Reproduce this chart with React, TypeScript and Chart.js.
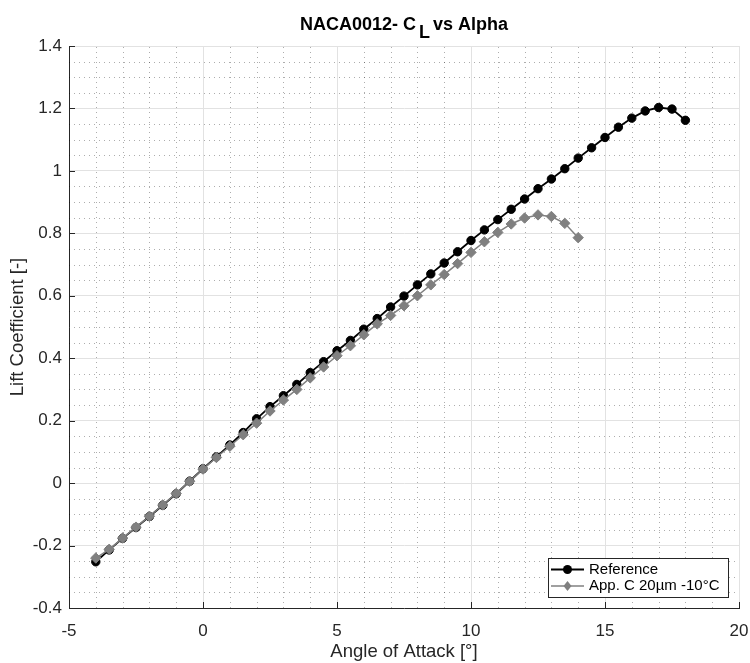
import React, { useEffect, useRef } from 'react';
import { Chart, registerables } from 'chart.js';

Chart.register(...registerables);

const alphaRef = [-4, -3.5, -3, -2.5, -2, -1.5, -1, -0.5, 0, 0.5, 1, 1.5, 2, 2.5, 3, 3.5, 4, 4.5, 5, 5.5, 6, 6.5, 7, 7.5, 8, 8.5, 9, 9.5, 10, 10.5, 11, 11.5, 12, 12.5, 13, 13.5, 14, 14.5, 15, 15.5, 16, 16.5, 17, 17.5, 18];
const clRef = [-0.252, -0.214, -0.177, -0.142, -0.107, -0.071, -0.034, 0.006, 0.046, 0.084, 0.122, 0.162, 0.206, 0.245, 0.28, 0.316, 0.354, 0.389, 0.424, 0.457, 0.493, 0.527, 0.564, 0.599, 0.635, 0.67, 0.705, 0.741, 0.777, 0.811, 0.844, 0.877, 0.91, 0.943, 0.974, 1.007, 1.041, 1.074, 1.107, 1.14, 1.169, 1.192, 1.203, 1.198, 1.162];

const alphaAppC = [-4, -3.5, -3, -2.5, -2, -1.5, -1, -0.5, 0, 0.5, 1, 1.5, 2, 2.5, 3, 3.5, 4, 4.5, 5, 5.5, 6, 6.5, 7, 7.5, 8, 8.5, 9, 9.5, 10, 10.5, 11, 11.5, 12, 12.5, 13, 13.5, 14];
const clAppC = [-0.24, -0.212, -0.176, -0.141, -0.106, -0.07, -0.033, 0.006, 0.045, 0.082, 0.118, 0.155, 0.192, 0.231, 0.266, 0.3, 0.337, 0.372, 0.408, 0.44, 0.475, 0.51, 0.537, 0.568, 0.6, 0.635, 0.668, 0.703, 0.739, 0.773, 0.803, 0.83, 0.849, 0.859, 0.854, 0.832, 0.786];

const seriesNames = ['Reference', 'App. C 20µm -10°C'];
const titleMain = 'NACA0012- C';
const titleSub = 'L';
const titleRest = 'vs Alpha';
const xLabel = 'Angle of Attack [°]';
const yLabel = 'Lift Coefficient [-]';

const X_MIN = -5, X_MAX = 20, X_STEP = 5, X_MINOR = 1;
const Y_MIN = -0.4, Y_MAX = 1.4, Y_STEP = 0.2, Y_MINOR = 0.05;

const FONT = '"Liberation Sans", Arial, Helvetica, sans-serif';
const AXIS_COLOR = '#262626';
const REF_COLOR = '#000000';
const APPC_COLOR = '#808080';

const decorPlugin = {
  id: 'matlabDecor',
  beforeDatasetsDraw(chart: any) {
    const { ctx, chartArea, scales } = chart;
    const { left, right, top, bottom } = chartArea;
    const xs = scales.x, ys = scales.y;
    ctx.save();
    ctx.strokeStyle = 'rgba(0,0,0,0.32)';
    ctx.lineWidth = 1;
    ctx.setLineDash([1, 4]);
    const nx = Math.round((X_MAX - X_MIN) / X_MINOR);
    for (let k = 1; k < nx; k++) {
      const v = X_MIN + k * X_MINOR;
      if (Math.abs(v / X_STEP - Math.round(v / X_STEP)) < 1e-9) continue;
      const px = Math.round(xs.getPixelForValue(v)) + 0.5;
      ctx.beginPath(); ctx.moveTo(px, bottom); ctx.lineTo(px, top); ctx.stroke();
    }
    const ny = Math.round((Y_MAX - Y_MIN) / Y_MINOR);
    const per = Math.round(Y_STEP / Y_MINOR);
    for (let k = 1; k < ny; k++) {
      if (k % per === 0) continue;
      const v = Y_MIN + k * Y_MINOR;
      const py = Math.round(ys.getPixelForValue(v)) + 0.5;
      ctx.beginPath(); ctx.moveTo(left, py); ctx.lineTo(right, py); ctx.stroke();
    }
    ctx.restore();
  },
  afterDraw(chart: any) {
    const { ctx, chartArea, scales } = chart;
    const { left, right, top, bottom } = chartArea;
    const xs = scales.x, ys = scales.y;
    ctx.save();
    // inward ticks
    ctx.strokeStyle = AXIS_COLOR;
    ctx.lineWidth = 1;
    ctx.setLineDash([]);
    for (let v = X_MIN; v <= X_MAX + 1e-9; v += X_STEP) {
      const px = Math.round(xs.getPixelForValue(v)) + 0.5;
      ctx.beginPath(); ctx.moveTo(px, bottom); ctx.lineTo(px, bottom - 6); ctx.stroke();
    }
    const nyMaj = Math.round((Y_MAX - Y_MIN) / Y_STEP);
    for (let k = 0; k <= nyMaj; k++) {
      const v = Y_MIN + k * Y_STEP;
      const py = Math.round(ys.getPixelForValue(v)) + 0.5;
      ctx.beginPath(); ctx.moveTo(left, py); ctx.lineTo(left + 6, py); ctx.stroke();
    }

    // title with subscript
    ctx.fillStyle = '#000';
    ctx.font = `bold 18px ${FONT}`;
    ctx.textBaseline = 'alphabetic';
    ctx.textAlign = 'left';
    const sp = ctx.measureText(' ').width;
    const w1 = ctx.measureText(titleMain).width;
    const ws = ctx.measureText(titleSub).width;
    const w2 = ctx.measureText(titleRest).width;
    const total = w1 + sp * 0.6 + ws + sp * 0.6 + w2;
    let tx = (left + right) / 2 - total / 2;
    const base = 30;
    ctx.fillText(titleMain, tx, base);
    tx += w1 + sp * 0.6;
    ctx.fillText(titleSub, tx, base + 8);
    tx += ws + sp * 0.6;
    ctx.fillText(titleRest, tx, base);

    // legend
    const bx = 548, by = 558, bw = 180, bh = 39;
    ctx.fillStyle = '#fff';
    ctx.fillRect(bx, by, bw, bh);
    ctx.strokeStyle = AXIS_COLOR;
    ctx.lineWidth = 1;
    ctx.strokeRect(bx + 0.5, by + 0.5, bw, bh);
    const rows = [by + 11.5, by + 28];
    ctx.font = `15px ${FONT}`;
    ctx.textBaseline = 'middle';
    // row 1
    ctx.strokeStyle = REF_COLOR; ctx.lineWidth = 2;
    ctx.beginPath(); ctx.moveTo(bx + 3, rows[0]); ctx.lineTo(bx + 36, rows[0]); ctx.stroke();
    ctx.fillStyle = REF_COLOR;
    ctx.beginPath(); ctx.arc(bx + 19.5, rows[0], 4.5, 0, Math.PI * 2); ctx.fill();
    ctx.fillStyle = '#000';
    ctx.fillText(seriesNames[0], bx + 41, rows[0]);
    // row 2
    ctx.strokeStyle = APPC_COLOR; ctx.lineWidth = 1.5;
    ctx.beginPath(); ctx.moveTo(bx + 3, rows[1]); ctx.lineTo(bx + 36, rows[1]); ctx.stroke();
    ctx.fillStyle = APPC_COLOR;
    const cx = bx + 19.5, cy = rows[1], r = 5;
    ctx.beginPath(); ctx.moveTo(cx, cy - r); ctx.lineTo(cx + r * 0.8, cy); ctx.lineTo(cx, cy + r); ctx.lineTo(cx - r * 0.8, cy); ctx.closePath(); ctx.fill();
    ctx.fillStyle = '#000';
    ctx.fillText(seriesNames[1], bx + 41, rows[1]);
    ctx.restore();
  },
};

function fmtY(v: number) {
  const r = Math.round(v * 10) / 10;
  return (Object.is(r, -0) ? 0 : r).toString();
}

export default function App() {
  const ref = useRef<HTMLCanvasElement | null>(null);
  useEffect(() => {
    if (!ref.current) return;
    const chart = new Chart(ref.current, {
      type: 'line',
      data: {
        datasets: [
          {
            label: seriesNames[0],
            data: alphaRef.map((a, i) => ({ x: a, y: clRef[i] })),
            borderColor: REF_COLOR,
            backgroundColor: REF_COLOR,
            borderWidth: 1.8,
            pointRadius: 4.2,
            pointBorderWidth: 1,
            pointStyle: 'circle',
            order: 1,
          },
          {
            label: seriesNames[1],
            data: alphaAppC.map((a, i) => ({ x: a, y: clAppC[i] })),
            borderColor: APPC_COLOR,
            backgroundColor: APPC_COLOR,
            borderWidth: 1.5,
            pointRadius: 5.2,
            pointBorderWidth: 1,
            pointStyle: 'rectRot',
            order: 0,
          },
        ],
      },
      options: {
        animation: false,
        responsive: true,
        maintainAspectRatio: false,
        layout: { padding: { top: 46, right: 11, left: 0, bottom: 0 } },
        plugins: { legend: { display: false }, tooltip: { enabled: false }, title: { display: false } },
        scales: {
          x: {
            type: 'linear',
            min: X_MIN,
            max: X_MAX,
            afterFit: (s: any) => { s.height = 55; s.paddingLeft = 0; s.paddingRight = 0; },
            ticks: { stepSize: X_STEP, color: AXIS_COLOR, font: { family: FONT, size: 17 }, padding: 13, maxRotation: 0 },
            grid: { color: '#e2e2e2', lineWidth: 1, drawTicks: false },
            border: { display: true, color: AXIS_COLOR, width: 1 },
            title: { display: true, text: xLabel, color: AXIS_COLOR, font: { family: FONT, size: 18.5 }, padding: { top: 0, bottom: 0 } },
          },
          y: {
            type: 'linear',
            min: Y_MIN,
            max: Y_MAX,
            afterFit: (s: any) => { s.width = 69; s.paddingTop = 0; s.paddingBottom = 0; },
            ticks: { stepSize: Y_STEP, color: AXIS_COLOR, font: { family: FONT, size: 17 }, padding: 7, callback: (v: any) => fmtY(Number(v)) },
            grid: { color: '#e2e2e2', lineWidth: 1, drawTicks: false },
            border: { display: true, color: AXIS_COLOR, width: 1 },
            title: { display: true, text: yLabel, color: AXIS_COLOR, font: { family: FONT, size: 18.5 }, padding: { top: 7, bottom: 0 } },
          },
        },
      },
      plugins: [decorPlugin],
    } as any);
    return () => chart.destroy();
  }, []);
  return (
    <div style={{ position: 'absolute', left: 0, top: 0, width: 750, height: 663, background: '#fff' }}>
      <canvas ref={ref} />
    </div>
  );
}
